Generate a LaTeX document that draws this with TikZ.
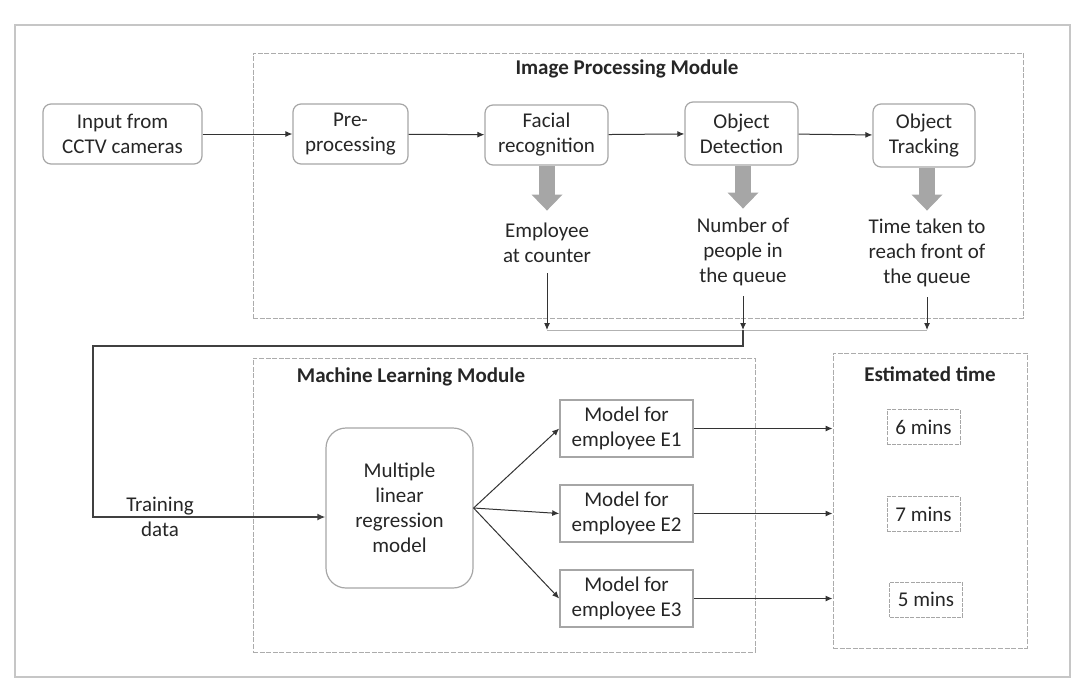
\documentclass[tikz,border=0pt]{standalone}
\usepackage{fontspec}
\setmainfont{Carlito}
\usetikzlibrary{arrows.meta,calc}
\begin{document}
\begin{tikzpicture}[x=0.5pt,y=-0.5pt,
  every node/.style={font=\fontsize{10.5}{12.5}\selectfont, align=center, inner sep=0pt, text=black!85},
  frame/.style={draw=gray!45, line width=0.9pt, minimum width=527.5pt, minimum height=326pt},
  module/.style={draw=gray!65, line width=0.5pt, dash pattern=on 2.5pt off 0.8pt},
  title/.style={font=\fontsize{10.5}{12.5}\selectfont\bfseries},
  rbox/.style={draw=gray!70, line width=0.6pt, rounded corners=4pt},
  sbox/.style={draw=gray!70, line width=0.8pt},
  tbox/.style={draw=gray!70, line width=0.5pt, dash pattern=on 2pt off 0.6pt, minimum width=36.5pt, minimum height=17.5pt},
  lbl/.style={inner sep=5pt},
  arr/.style={draw=black!80, line width=0.5pt, -{Latex[length=3.5pt,width=3pt]}},
  bus/.style={draw=gray!60, line width=0.5pt},
  thk/.style={draw=black!75, line width=1.1pt, -{Latex[length=4pt,width=3.5pt]}},
  fat/.style={draw=gray!70, line width=8pt, -{Triangle[length=8pt,width=15pt]}}
]
\useasboundingbox (0,0) rectangle (1080,686);
% outer frame
\node[frame] (frm) at (542.5,351) {};
% modules
\node[module, minimum width=385pt, minimum height=132.5pt] (ipm) at (638,185.5) {};
\node[module, minimum width=251pt, minimum height=147pt] (mlm) at (504,505) {};
\node[module, minimum width=97pt, minimum height=147.5pt] (estb) at (930,500.5) {};
\node[title] (ipmt) at (627,69) {Image Processing Module};
\node[title] (mlmt) at (411,377) {Machine Learning Module};
\node[title] (estt) at (930,374) {Estimated time};
% top row
\node[rbox, minimum width=79.5pt, minimum height=30pt] (inp) at (122.5,134) {Input from\\CCTV cameras};
\node[rbox, minimum width=57.5pt, minimum height=30pt] (pre) at (350.5,134) {Pre-\\processing};
\node[rbox, minimum width=61.5pt, minimum height=30pt] (fac) at (546.5,135) {Facial\\recognition};
\node[rbox, minimum width=56.5pt, minimum height=31.5pt] (det) at (741.5,133.5) {Object\\Detection};
\node[rbox, minimum width=51pt, minimum height=31.5pt] (trk) at (924,135.5) {Object\\Tracking};
\draw[arr] (inp) -- (pre);
\draw[arr] (pre) -- (fac);
\draw[arr] (fac) -- (det);
\draw[arr] (det) -- (trk);
% outputs
\node[lbl] (emp) at (547,243) {Employee\\at counter};
\node[lbl] (num) at (743,252) {Number of\\people in\\the queue};
\node[lbl] (tim) at (927,253) {Time taken to\\reach front of\\the queue};
\draw[fat] (fac.south -| emp.north) -- ++(0,45);
\draw[fat] (det.south -| num.north) -- ++(0,43);
\draw[fat] (trk.south -| tim.north) -- ++(0,43);
% bus
\coordinate (b1) at (547,330);
\coordinate (b2) at (743,330);
\coordinate (b3) at (927,330);
\coordinate (tr) at (743,346);
\coordinate (tl) at (93,346);
\draw[bus] (b1) -- (b3);
\draw[arr] (emp.south) -- (b1);
\draw[arr] (num.south) -- (b2);
\draw[arr] (tim.south) -- (b3);
% ML module
\node[rbox, rounded corners=10pt, minimum width=73.5pt, minimum height=80pt] (mlr) at (399.5,508) {Multiple\\linear\\regression\\model};
\draw[thk] (b2) -- (tr) -- (tl) |- ([yshift=-4.5pt]mlr.west);
\node (trn) at (160,517) {Training\\data};
\node[sbox, minimum width=66.5pt, minimum height=28.5pt] (m1) at (626.5,428.5) {Model for\\employee E1};
\node[sbox, minimum width=66.5pt, minimum height=28.5pt] (m2) at (626.5,513.5) {Model for\\employee E2};
\node[sbox, minimum width=66.5pt, minimum height=28.5pt] (m3) at (626.5,598.5) {Model for\\employee E3};
\draw[arr] (mlr.east) -- (m1.west);
\draw[arr] (mlr.east) -- (m2.west);
\draw[arr] (mlr.east) -- (m3.west);
% estimated times
\node[tbox] (e1) at (923.5,427) {6 mins};
\node[tbox] (e2) at (923.5,514) {7 mins};
\node[tbox] (e3) at (926,599.5) {5 mins};
\draw[arr] (m1.east) -- (m1.east -| estb.west);
\draw[arr] (m2.east) -- (m2.east -| estb.west);
\draw[arr] (m3.east) -- (m3.east -| estb.west);
\end{tikzpicture}
\end{document}
